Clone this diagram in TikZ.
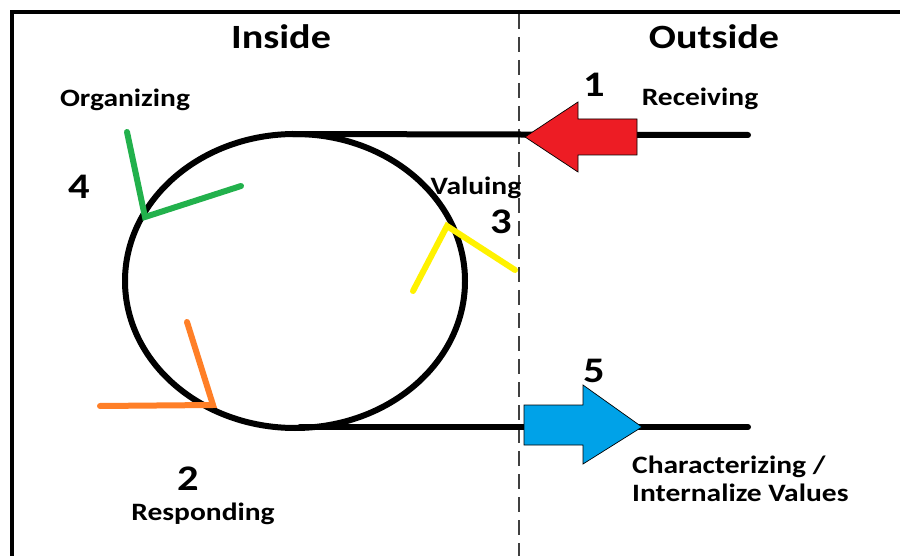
\documentclass[tikz,border=0pt]{standalone}
\usepackage{fontspec}
\setmainfont{Carlito}[FakeStretch=1.18]
\definecolor{arrowred}{HTML}{ED1C24}
\definecolor{arrowblue}{HTML}{00A2E8}
\definecolor{tickgreen}{HTML}{22B14C}
\definecolor{tickyellow}{HTML}{FFF200}
\definecolor{tickorange}{HTML}{FF7F27}

\begin{document}
\begin{tikzpicture}[
    x=1pt, y=-1pt,
    title/.style={font=\bfseries\fontsize{34}{40}\selectfont, inner sep=0pt, anchor=base},
    stage/.style={font=\bfseries\fontsize{36}{40}\selectfont, inner sep=0pt, anchor=base},
    caption/.style={font=\bfseries\fontsize{25}{30}\selectfont, inner sep=0pt, anchor=base},
    track/.style={line width=6pt, line cap=round},
    tick/.style={line width=6pt, line cap=round},
    flow/.style={draw=black, line width=0.7pt, line join=miter}
]
    \useasboundingbox (0,0) rectangle (900,556);
    \fill[white] (0,0) rectangle (900,556);

    % frame and divider
    \draw[line width=4.5pt] (12,556) -- (12,12) -- (900,12);
    \draw[line width=1.1pt, black!75, dash pattern=on 15pt off 8pt] (519,14) -- (519,556);

    % the cycle and its two tracks
    \draw[track] (295,281) ellipse [x radius=170, y radius=147];
    \coordinate (intop) at (292,134);
    \coordinate (outtop) at (748,135);
    \coordinate (inbot) at (300,427);
    \coordinate (outbot) at (748,427);
    \draw[track] (intop) -- (outtop);
    \draw[track] (inbot) -- (outbot);

    % receiving arrow (in)
    \fill[arrowred, flow] (525,137) -- (578,102) -- (578,119) -- (637,119)
        -- (637,155) -- (578,155) -- (578,172) -- cycle;
    % characterizing arrow (out)
    \fill[arrowblue, flow] (642,427) -- (583,385) -- (583,405) -- (524,405)
        -- (524,445) -- (583,445) -- (583,464) -- cycle;

    % stage ticks on the cycle
    \coordinate (org) at (145,217);
    \draw[tick, tickgreen] (127,132) -- (org) -- (241,186);
    \coordinate (val) at (447,226);
    \draw[tick, tickyellow] (413,291) -- (val) -- (515,270);
    \coordinate (resp) at (213,405);
    \draw[tick, tickorange] (187,322) -- (resp) -- (100,406);

    % headings
    \node[title] (inside) at (281,49) {Inside};
    \node[title] (outside) at (714,49) {Outside};

    % stage numbers
    \node[stage] (n1) at (594,97) {1};
    \node[stage] (n2) at (188,490) {2};
    \node[stage] (n3) at (501,234) {3};
    \node[stage] (n4) at (79,199) {4};
    \node[stage] (n5) at (594,382) {5};

    % stage names
    \node[caption] (receiving) at (700,106) {Receiving};
    \node[caption] (organizing) at (125,107) {Organizing};
    \node[caption] (valuing) at (476,195) {Valuing};
    \node[caption] (responding) at (203,520) {Responding};
    \node[caption, anchor=base west] (charact) at (632,473) {Characterizing /};
    \node[caption, anchor=base west] (internal) at (632,501) {Internalize Values};
\end{tikzpicture}
\end{document}
